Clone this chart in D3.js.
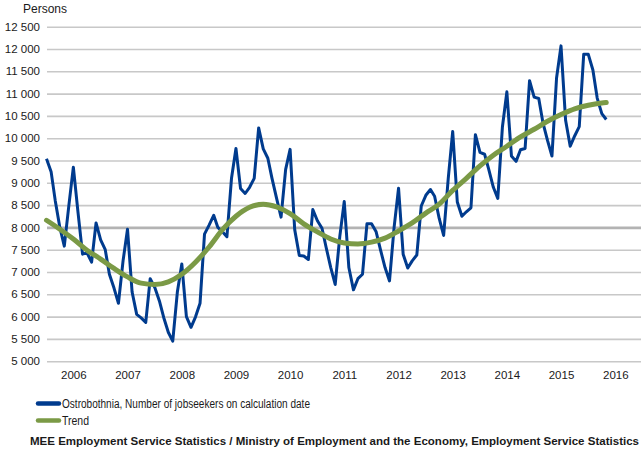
<!DOCTYPE html>
<html>
<head>
<meta charset="utf-8">
<script src="https://cdn.jsdelivr.net/npm/d3@7"></script>
<style>
  body { margin: 0; background: #fff; }
  svg { display: block; font-family: "Liberation Sans", Arial, sans-serif; }
  .y.axis .domain, .x.axis .domain { display: none; }
  .y.axis line { stroke: #c8c8c8; stroke-width: 1.6px; }
  .axis text { fill: #1a1a1a; font-size: 11.5px; }
</style>
</head>
<body>
<div id="chart-area"></div>
<script>
// Monthly data, starting January 2006
const startYear = 2006;

// Ostrobothnia, number of jobseekers on calculation date
const jobseekers = [
  9540, 9250, 8600, 8000, 7580, 8500, 9350, 8350, 7400, 7430, 7220, 8100,   // 2006
  7720, 7500, 6950, 6640, 6300, 7250, 7960, 6550, 6050, 5970, 5870, 6850,   // 2007
  6650, 6350, 5980, 5650, 5450, 6550, 7180, 6000, 5760, 5990, 6300, 7850,   // 2008
  8050, 8270, 8000, 7900, 7790, 9100, 9770, 8870, 8760, 8900, 9100, 10230,  // 2009
  9760, 9550, 9100, 8650, 8230, 9300, 9750, 7950, 7370, 7360, 7280, 8400,   // 2010
  8150, 7980, 7550, 7100, 6720, 7800, 8580, 7100, 6600, 6850, 6950, 8080,   // 2011
  8080, 7900, 7500, 7100, 6800, 8000, 8880, 7400, 7090, 7250, 7380, 8480,   // 2012
  8720, 8850, 8700, 8200, 7820, 9100, 10150, 8570, 8250, 8350, 8440, 10080, // 2013
  9680, 9640, 9300, 8900, 8650, 10250, 11040, 9600, 9480, 9740, 9770, 11290, // 2014
  10920, 10890, 10350, 9950, 9600, 11350, 12070, 10400, 9820, 10050, 10260, 11880, // 2015
  11880, 11530, 10900, 10550, 10420                                        // 2016
];

// Trend, read every third month (month index from Jan 2006)
const trendMonths = [0, 3, 6, 9, 12, 15, 18, 21, 24, 27, 30, 33, 36, 39, 42, 45, 48, 51, 54, 57,
  60, 63, 66, 69, 72, 75, 78, 81, 84, 87, 90, 93, 96, 99, 102, 105, 108, 111, 114, 117, 120, 123, 124];
const trendValues = [8160, 7960, 7740, 7490, 7290, 7080, 6890, 6750, 6720, 6780, 6950, 7220, 7560, 7950,
  8250, 8450, 8520, 8460, 8310, 8080, 7900, 7740, 7650, 7630, 7670, 7760, 7920, 8100, 8320, 8520,
  8830, 9100, 9380, 9620, 9820, 10030, 10200, 10380, 10530, 10660, 10740, 10790, 10800];

const years = [2006, 2007, 2008, 2009, 2010, 2011, 2012, 2013, 2014, 2015, 2016];
const yTicks = [5000, 5500, 6000, 6500, 7000, 7500, 8000, 8500, 9000, 9500, 10000,
  10500, 11000, 11500, 12000, 12500];

const seriesNames = ["Ostrobothnia, Number of jobseekers on calculation date", "Trend"];
const colors = ["#003b8e", "#7b9a46"];
const yLabel = "Persons";
const source = "MEE Employment Service Statistics / Ministry of Employment and the Economy, Employment Service Statistics";

const W = 641, H = 455;
const plot = { left: 47, right: 641, top: 26.7, bottom: 361.2 };

const svg = d3.select("#chart-area").append("svg")
    .attr("width", W)
    .attr("height", H);

const monthDate = i => new Date(startYear, i, 1);

// Scales
const x = d3.scaleTime()
    .domain([new Date(2006, 0, 1), new Date(2017, 0, 1)])
    .range([46.5, 642.6]);
const y = d3.scaleLinear()
    .domain([5000, 12500])
    .range([plot.bottom, plot.top]);

const fmt = d3.formatLocale({ decimal: ",", thousands: " ", grouping: [3], currency: ["", ""] }).format(",");

// Y axis with gridlines
const yAxis = svg.append("g")
    .attr("class", "y axis")
    .attr("transform", "translate(" + plot.left + ",0)")
    .call(d3.axisLeft(y)
        .tickValues(yTicks)
        .tickSize(-(plot.right - plot.left))
        .tickPadding(7)
        .tickFormat(fmt));
yAxis.selectAll(".tick")
    .filter(d => d === 8000)
    .select("line")
    .style("stroke", "#b3b3b3")
    .style("stroke-width", "2.6px");

svg.append("text")
    .attr("x", 23)
    .attr("y", 13)
    .attr("font-size", "12px")
    .attr("fill", "#1a1a1a")
    .text(yLabel);

// X axis, year labels at mid-year
svg.append("g")
    .attr("class", "x axis")
    .attr("transform", "translate(0," + (plot.bottom + 6) + ")")
    .call(d3.axisBottom(x)
        .tickValues(years.map(yr => new Date(yr, 6, 1)))
        .tickSize(0)
        .tickPadding(4)
        .tickFormat(d3.timeFormat("%Y")));

// Lines
const line = d3.line()
    .x(d => x(d.date))
    .y(d => y(d.value));

const seekerData = jobseekers.map((v, i) => ({ date: monthDate(i), value: v }));
const trendData = trendValues.map((v, i) => ({ date: monthDate(trendMonths[i]), value: v }));

svg.append("path")
    .attr("fill", "none")
    .attr("stroke", colors[0])
    .attr("stroke-width", 3)
    .attr("stroke-linejoin", "round")
    .attr("d", line(seekerData));

svg.append("path")
    .attr("fill", "none")
    .attr("stroke", colors[1])
    .attr("stroke-width", 5)
    .attr("stroke-linecap", "round")
    .attr("d", line.curve(d3.curveMonotoneX)(trendData));

// Legend
const legend = svg.append("g");
seriesNames.forEach((name, i) => {
    const ly = 403.5 + i * 17;
    legend.append("line")
        .attr("x1", 38).attr("x2", 59)
        .attr("y1", ly).attr("y2", ly)
        .attr("stroke", colors[i])
        .attr("stroke-width", 4.5)
        .attr("stroke-linecap", "round");
    legend.append("text")
        .attr("x", 62)
        .attr("y", ly + 4.5)
        .attr("font-size", "12.5px")
        .attr("fill", "#1a1a1a")
        .attr("textLength", i === 0 ? 248 : 27)
        .attr("lengthAdjust", "spacingAndGlyphs")
        .text(name);
});

// Source
svg.append("text")
    .attr("x", 30)
    .attr("y", 445)
    .attr("font-size", "10.5px")
    .attr("font-weight", "bold")
    .attr("fill", "#1a1a1a")
    .attr("textLength", 609)
    .attr("lengthAdjust", "spacingAndGlyphs")
    .text(source);
</script>
</body>
</html>
